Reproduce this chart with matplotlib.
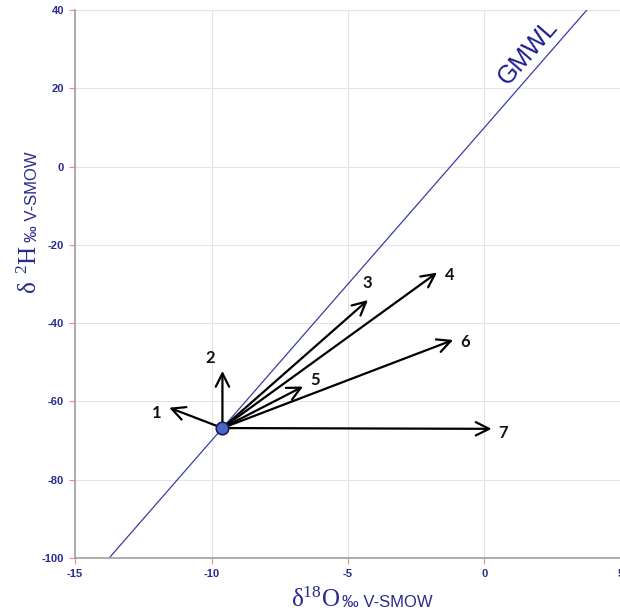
import numpy as np
import matplotlib
matplotlib.use('Agg')
import matplotlib.pyplot as plt

plt.rcParams['font.family'] = ['Liberation Sans', 'DejaVu Sans']
plt.rcParams['mathtext.fontset'] = 'custom'
plt.rcParams['mathtext.rm'] = 'Liberation Serif'
plt.rcParams['axes.unicode_minus'] = False

# data
origin = (-9.6, -66.8)
arrow_x = [-11.55, -9.6, -4.27, -1.74, -6.65, -1.15, 0.26]
arrow_y = [-61.6, -52.2, -34.1, -27.1, -56.2, -44.3, -67.0]
label_names = ['1', '2', '3', '4', '5', '6', '7']
label_x = [-12.01, -10.05, -4.28, -1.26, -6.21, -0.71, 0.68]
label_y = [-63.0, -48.9, -29.7, -27.7, -54.5, -44.7, -68.1]
gmwl_x = np.array([-16.0, 6.0])
gmwl_y = 8 * gmwl_x + 10

navy = '#2b2b8c'

fig = plt.figure(figsize=(6.2, 6.13), dpi=100)
ax = fig.add_axes([0.121, 0.0897, 0.8806, 0.894])

ax.set_xlim(-15, 5)
ax.set_ylim(-100, 40)
ax.set_xticks([-15, -10, -5, 0, 5])
ax.set_yticks([-100, -80, -60, -40, -20, 0, 20, 40])
ax.grid(True, color='#e4e4e4', lw=0.8)
ax.set_axisbelow(True)
ax.tick_params(colors='#f08a80', labelcolor=navy, labelsize=8, length=4, width=0.8, pad=4)
for lab in ax.get_xticklabels() + ax.get_yticklabels():
    lab.set_fontweight('bold')
for s in ['top', 'right']:
    ax.spines[s].set_visible(False)
for s in ['left', 'bottom']:
    ax.spines[s].set_color('#a0a0a0')
    ax.spines[s].set_linewidth(1.2)

# GMWL
ax.plot(gmwl_x, gmwl_y, color='#3c3ca8', lw=0.9, zorder=2)
ax.text(1.6, 29.2, 'GMWL', color='#1a1a90', fontsize=18, rotation=48.9,
        ha='center', va='center', rotation_mode='anchor')

# arrows
for x, y in zip(arrow_x, arrow_y):
    ax.annotate('', xy=(x, y), xytext=origin,
                arrowprops=dict(arrowstyle='->,head_length=0.6,head_width=0.3',
                                mutation_scale=16, color='black', lw=1.6,
                                shrinkA=0, shrinkB=0), zorder=4)
for name, x, y in zip(label_names, label_x, label_y):
    ax.text(x, y, name, fontsize=12, fontweight='bold', family=['Lato', 'DejaVu Sans'],
            ha='center', va='center', color='#111111')

ax.plot(origin[0], origin[1], 'o', ms=9, mfc='#4a64c8', mec='#1a1a50', mew=1.2, zorder=5)

# axis labels
fig.text(340 / 620, 1 - 607 / 613, r'$\mathrm{\delta^{18}O}$', fontsize=18, color=navy,
         ha='right', va='baseline')
fig.text(342 / 620, 1 - 607 / 613, '‰ V-SMOW', fontsize=12, color=navy,
         ha='left', va='baseline')
fig.text(37 / 620, 1 - 245 / 613, r'$\mathrm{\delta\ ^{2}H}$', fontsize=18, color=navy,
         ha='right', va='baseline', rotation=90, rotation_mode='anchor')
fig.text(37 / 620, 1 - 242 / 613, '‰ V-SMOW', fontsize=12, color=navy,
         ha='left', va='baseline', rotation=90, rotation_mode='anchor')

fig.savefig('out.png', dpi=100)
